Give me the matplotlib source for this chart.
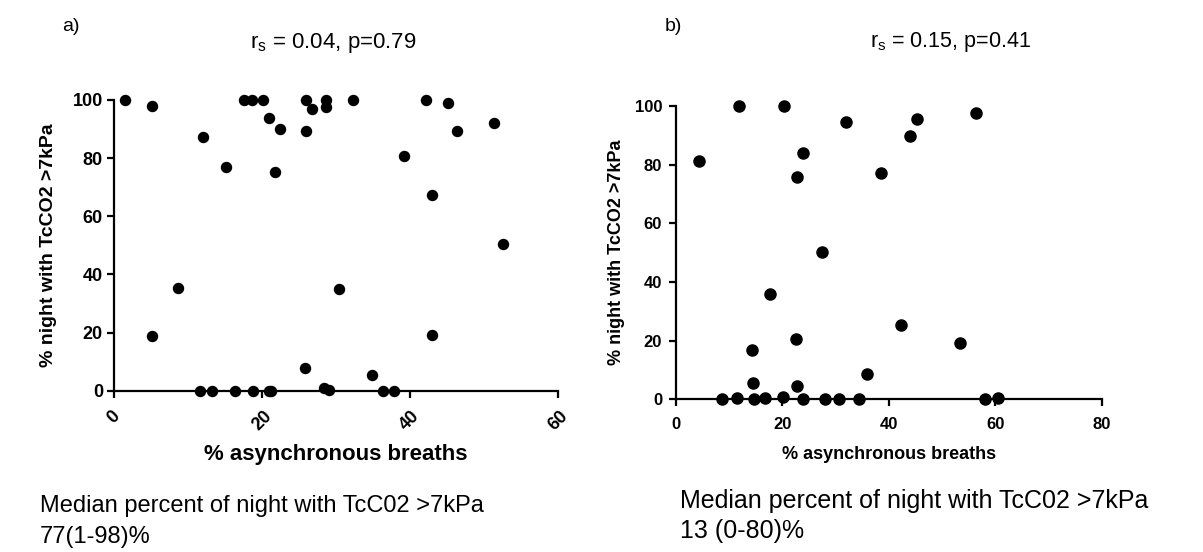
import matplotlib.pyplot as plt

# panel a) data
async_a = [1.5, 5.2, 5.2, 8.6, 12.0, 11.6, 13.2, 15.2, 16.4, 17.5, 18.6, 18.8, 20.2,
           21.0, 20.9, 21.2, 21.8, 22.4, 26.0, 26.0, 26.8, 25.8, 28.6, 28.6, 28.4, 29.0,
           30.4, 32.3, 34.8, 36.4, 37.8, 39.2, 42.2, 43.0, 43.0, 45.1, 46.3, 51.3, 52.5]
night_a = [100, 97.9, 18.8, 35.2, 87.4, 0, 0, 76.8, 0, 100, 100, 0, 100,
           93.9, 0, 0, 75.3, 89.9, 100, 89.3, 96.8, 7.9, 100, 97.7, 0.8, 0.2,
           34.9, 100, 5.4, 0, 0, 80.8, 100, 67.3, 19.2, 98.9, 89.3, 92.0, 50.3]

# panel b) data
async_b = [4.4, 11.9, 20.3, 31.9, 45.2, 43.9, 56.3, 23.9, 22.8, 38.6, 27.5, 17.7, 14.2,
           22.5, 42.2, 53.3, 14.4, 22.8, 35.8, 8.6, 11.4, 14.7, 16.75, 20.2, 23.9, 28.0,
           30.6, 34.4, 58.1, 60.6]
night_b = [81.1, 100, 100, 94.4, 95.6, 89.8, 97.5, 83.9, 75.9, 77.3, 50.2, 35.9, 16.8,
           20.6, 25.3, 19.1, 5.7, 4.5, 8.6, 0, 0.3, 0, 0.3, 0.9, 0, 0,
           0, 0, 0, 0.3]

xticks_a = [0, 20, 40, 60]
xticks_b = [0, 20, 40, 60, 80]
yticks = [0, 20, 40, 60, 80, 100]

plt.rcParams['font.family'] = ['Liberation Sans', 'DejaVu Sans']

fig = plt.figure(figsize=(12.03, 5.52), dpi=100)

# ---- a)
ax1 = fig.add_axes([114 / 1203, 1 - 390.7 / 552, 444 / 1203, 290.7 / 552])
ax1.scatter(async_a, night_a, s=52, color='black', clip_on=False, zorder=3)
ax1.set_xlim(0, 60)
ax1.set_ylim(0, 100)
ax1.set_xticks(xticks_a)
ax1.set_yticks(yticks)
ax1.set_xticklabels([str(t) for t in xticks_a], rotation=45, ha='center', va='top',
                    fontsize=13, fontweight='bold')
ax1.set_yticklabels([str(t) for t in yticks], fontsize=13, fontweight='bold')
ax1.set_xlabel('% asynchronous breaths', fontsize=16, fontweight='bold')
ax1.set_ylabel('% night with TcCO2 >7kPa', fontsize=14, fontweight='bold')
ax1.xaxis.set_label_coords(0.5, -0.183)
ax1.yaxis.set_label_coords(-0.128, 0.5)

# ---- b)
ax2 = fig.add_axes([676 / 1203, 1 - 399.3 / 552, 425.7 / 1203, 293.3 / 552])
ax2.scatter(async_b, night_b, s=64, color='black', clip_on=False, zorder=3)
ax2.set_xlim(0, 80)
ax2.set_ylim(0, 100)
ax2.set_xticks(xticks_b)
ax2.set_yticks(yticks)
ax2.set_xticklabels([str(t) for t in xticks_b], fontsize=12, fontweight='bold')
ax2.set_yticklabels([str(t) for t in yticks], fontsize=12, fontweight='bold')
ax2.set_xlabel('% asynchronous breaths', fontsize=13, fontweight='bold', labelpad=10)
ax2.set_ylabel('% night with TcCO2 >7kPa', fontsize=13, fontweight='bold', labelpad=7)

for ax in (ax1, ax2):
    ax.spines['top'].set_visible(False)
    ax.spines['right'].set_visible(False)
    ax.spines['left'].set_linewidth(1.6)
    ax.spines['bottom'].set_linewidth(1.6)
    ax.tick_params(width=1.6, length=5, colors='black', pad=3)
ax1.tick_params(axis='x', pad=7)
ax2.tick_params(axis='x', pad=8)
ax2.tick_params(axis='y', pad=5)

# annotations
fig.text(62 / 1203, 1 - 31 / 552, 'a)', fontsize=14, va='baseline')
fig.text(250 / 1203, 1 - 48 / 552, r'r$_\mathregular{s}$ = 0.04, p=0.79', fontsize=16, va='baseline')
fig.text(665 / 1203, 1 - 31 / 552, 'b)', fontsize=14, va='baseline')
fig.text(870 / 1203, 1 - 47 / 552, r'r$_\mathregular{s}$ = 0.15, p=0.41', fontsize=15.5, va='baseline')

fig.text(40 / 1203, 1 - 512 / 552, 'Median percent of night with TcC02 >7kPa',
         fontsize=17, va='baseline')
fig.text(40 / 1203, 1 - 543 / 552, '77(1-98)%', fontsize=17, va='baseline')
fig.text(680 / 1203, 1 - 508 / 552, 'Median percent of night with TcC02 >7kPa', fontsize=18,
         va='baseline')
fig.text(680 / 1203, 1 - 538 / 552, '13 (0-80)%', fontsize=18, va='baseline')

fig.savefig('out.png', dpi=100)
